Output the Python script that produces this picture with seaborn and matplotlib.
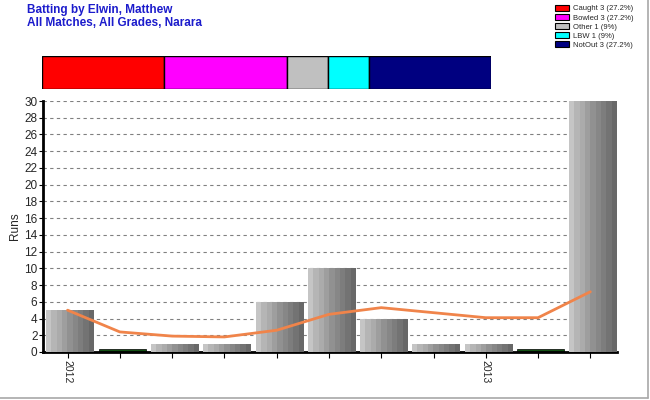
import numpy as np
import matplotlib
matplotlib.use("Agg")
import matplotlib.pyplot as plt
import matplotlib.patches as mpatches
import pandas as pd
import seaborn as sns

# data
innings = list(range(11))
runs = [5, 0, 1, 1, 6, 10, 4, 1, 1, 0, 30]
trend = [5.0, 2.4, 1.9, 1.8, 2.6, 4.5, 5.3, 4.7, 4.1, 4.1, 7.2]
year_labels = ["2012", "", "", "", "", "", "", "", "2013", "", ""]

dismissals = ["Caught", "Bowled", "Other", "LBW", "NotOut"]
dismissal_counts = [3, 3, 1, 1, 3]
dismissal_pct = ["27.2%", "27.2%", "9%", "9%", "27.2%"]
dismissal_colors = ["#ff0000", "#ff00ff", "#c0c0c0", "#00ffff", "#000080"]

sns.set_theme(style="white")
plt.rcParams["font.family"] = ["Liberation Sans", "DejaVu Sans"]

fig = plt.figure(figsize=(6.5, 4.0), dpi=100)

# title
fig.text(27 / 650, 1 - 4 / 400, "Batting by Elwin, Matthew\nAll Matches, All Grades, Narara",
         color="#1c1ccc", fontsize=8.5, fontweight="bold", va="top", ha="left", linespacing=1.15)

# dismissal proportion strip
ax_top = fig.add_axes([42 / 650, 1 - 89 / 400, 449 / 650, 33 / 400])
left = 0
for n, col in zip(dismissal_counts, dismissal_colors):
    ax_top.barh(0, n, left=left, height=1, color=col, edgecolor="black", linewidth=1)
    left += n
ax_top.set_xlim(0, sum(dismissal_counts))
ax_top.set_ylim(-0.5, 0.5)
ax_top.axis("off")

# legend
handles = [mpatches.Patch(facecolor=c, edgecolor="black", linewidth=0.8,
                          label=f"{d} {n} ({p})")
           for d, n, p, c in zip(dismissals, dismissal_counts, dismissal_pct, dismissal_colors)]
fig.legend(handles=handles, loc="upper right", bbox_to_anchor=(0.985, 1.005), frameon=False,
           fontsize=5.5, handlelength=1.9, handleheight=0.8, labelspacing=0.2, handletextpad=0.5)

# main chart
ax = fig.add_axes([43 / 650, 1 - 352 / 400, 574 / 650, 251 / 400])
df = pd.DataFrame({"inning": innings, "runs": runs})
sns.barplot(data=df, x="inning", y="runs", ax=ax, color="#999999", width=0.91,
            saturation=1, edgecolor="none", zorder=2)

shades = np.array([[0.77, 0.71, 0.67, 0.62, 0.57, 0.53, 0.49, 0.45, 0.41]])
for patch, val in zip(ax.patches, runs):
    if val == 0:
        patch.set_height(0.3)
        patch.set_facecolor("#145214")
        patch.set_edgecolor("black")
        patch.set_linewidth(0.5)
        continue
    x0 = patch.get_x()
    w = patch.get_width()
    im = ax.imshow(shades, extent=[x0, x0 + w, 0, patch.get_height()], aspect="auto",
                   cmap="gray", vmin=0, vmax=1, interpolation="nearest", zorder=3)
    im.set_clip_path(patch)

# ticks and trend line sit slightly left of the bar centres, as in the original
tick_pos = [i - 0.05 for i in innings]
ax.plot(tick_pos, trend, color="#f0844a", linewidth=2, zorder=4)

ax.set_xlim(-0.52, 10.46)
ax.set_ylim(0, 30)
ax.set_yticks(range(0, 31, 2))
ax.set_xticks(tick_pos)
ax.set_xticklabels(year_labels, rotation=270, fontsize=7.5)
ax.tick_params(axis="y", labelsize=8.5, length=3, width=0.8, color="black", pad=1, left=True)
ax.tick_params(axis="x", length=4, width=0.8, color="black", pad=2, bottom=True)
ax.set_xlabel("")
ax.set_ylabel("Runs", fontsize=8.5, labelpad=2)
ax.yaxis.grid(True, color="#808080", linestyle=(0, (3, 3)), linewidth=0.8)
ax.set_axisbelow(True)
for side in ["top", "right"]:
    ax.spines[side].set_visible(False)
ax.spines["left"].set_linewidth(2)
ax.spines["bottom"].set_linewidth(2)
ax.spines["left"].set_color("black")
ax.spines["bottom"].set_color("black")

# thin frame on right and bottom of the picture
fig.add_artist(plt.Line2D([0, 0.997], [0.004, 0.004], color="#a8a8a8", linewidth=1.2,
                          transform=fig.transFigure))
fig.add_artist(plt.Line2D([0.997, 0.997], [0.004, 1], color="#a8a8a8", linewidth=1.2,
                          transform=fig.transFigure))

fig.savefig("out.png", dpi=100)
